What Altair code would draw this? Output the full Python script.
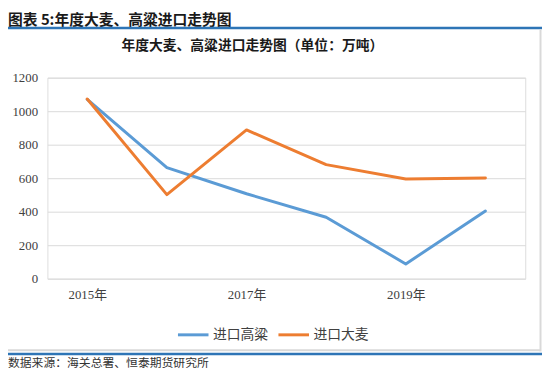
import altair as alt
import pandas as pd

years = ["2015年", "2016年", "2017年", "2018年", "2019年", "2020年"]
sorghum = [1070, 663, 507, 367, 88, 404]
barley = [1073, 502, 888, 681, 595, 601]
series = ["进口高粱", "进口大麦"]
colors = ["#5b9bd5", "#ed7d31"]
shown_years = ["2015年", "2017年", "2019年"]
y_ticks = [0, 200, 400, 600, 800, 1000, 1200]

header = "图表 5:年度大麦、高粱进口走势图"
title = "年度大麦、高粱进口走势图（单位：万吨）"
footer = "数据来源：海关总署、恒泰期货研究所"

rows = []
for i, y in enumerate(years):
    rows.append({"year": y, "series": series[0], "value": sorghum[i]})
    rows.append({"year": y, "series": series[1], "value": barley[i]})
df = pd.DataFrame(rows)

serif = "Liberation Serif, Noto Sans CJK SC"
sans = "Noto Sans CJK SC"

lines = alt.Chart(df).mark_line(strokeWidth=3, strokeJoin="round", strokeCap="round").encode(
    x=alt.X("year:N", sort=years, title=None,
            scale=alt.Scale(type="point", padding=0.5),
            axis=alt.Axis(values=shown_years, labelAngle=0, domain=False, ticks=False, tickSize=0,
                          labelPadding=10, labelFont=serif, labelFontSize=13, labelColor="#404040",
                          grid=False)),
    y=alt.Y("value:Q", title=None, scale=alt.Scale(domain=[0, 1200], nice=False, zero=True),
            axis=alt.Axis(values=y_ticks, format="d", domain=False, ticks=False, tickSize=0,
                          labelPadding=10, labelFont=serif, labelFontSize=13,
                          labelColor="#404040",
                          grid=True, gridColor="#d9d9d9", gridWidth=1)),
    color=alt.Color("series:N", sort=series,
                    scale=alt.Scale(domain=series, range=colors),
                    legend=alt.Legend(title=None, orient="none", legendX=131, legendY=244,
                                      direction="horizontal", symbolType="stroke",
                                      symbolSize=961, symbolStrokeWidth=3, labelFont=sans,
                                      labelFontSize=14, labelColor="#404040", labelOffset=3,
                                      columnPadding=4)),
)

dummy = pd.DataFrame({"d": [0]})

header_text = alt.Chart(dummy).mark_text(align="left", baseline="middle", font=sans,
                                         fontSize=15, fontWeight="bold", color="#1a1a1a").encode(
    x=alt.value(-40), y=alt.value(-58.5), text=alt.value(header))

title_text = alt.Chart(dummy).mark_text(align="center", baseline="middle", font=sans,
                                        fontSize=14, fontWeight="bold", color="#1a1a1a").encode(
    x=alt.value(208), y=alt.value(-32), text=alt.value(title))

footer_text = alt.Chart(dummy).mark_text(align="left", baseline="middle", font=sans,
                                         fontSize=12, color="#333333").encode(
    x=alt.value(-40), y=alt.value(290), text=alt.value(footer))

top_rule = alt.Chart(dummy).mark_rule(color="#2e75b6", strokeWidth=2.5).encode(
    x=alt.value(-40), x2=alt.value(502), y=alt.value(-50.5))
right_rule = alt.Chart(dummy).mark_rule(color="#d9d9d9", strokeWidth=2).encode(
    x=alt.value(500.5), y=alt.value(-49), y2=alt.value(278))
gray_bottom = alt.Chart(dummy).mark_rule(color="#d9d9d9", strokeWidth=2).encode(
    x=alt.value(-40), x2=alt.value(500), y=alt.value(276.7))
blue_bottom = alt.Chart(dummy).mark_rule(color="#2e75b6", strokeWidth=2.5).encode(
    x=alt.value(-40), x2=alt.value(502), y=alt.value(280.5))

chart = alt.layer(lines, header_text, title_text, footer_text, top_rule, right_rule,
                  gray_bottom, blue_bottom).properties(
    width=485, height=204,
    autosize=alt.AutoSizeParams(type="none"),
    padding={"left": 40, "top": 68, "right": 17, "bottom": 93},
).configure_view(stroke=None).configure(background="white")

chart.save("out.html", embed_options={"renderer": "svg", "actions": False})
